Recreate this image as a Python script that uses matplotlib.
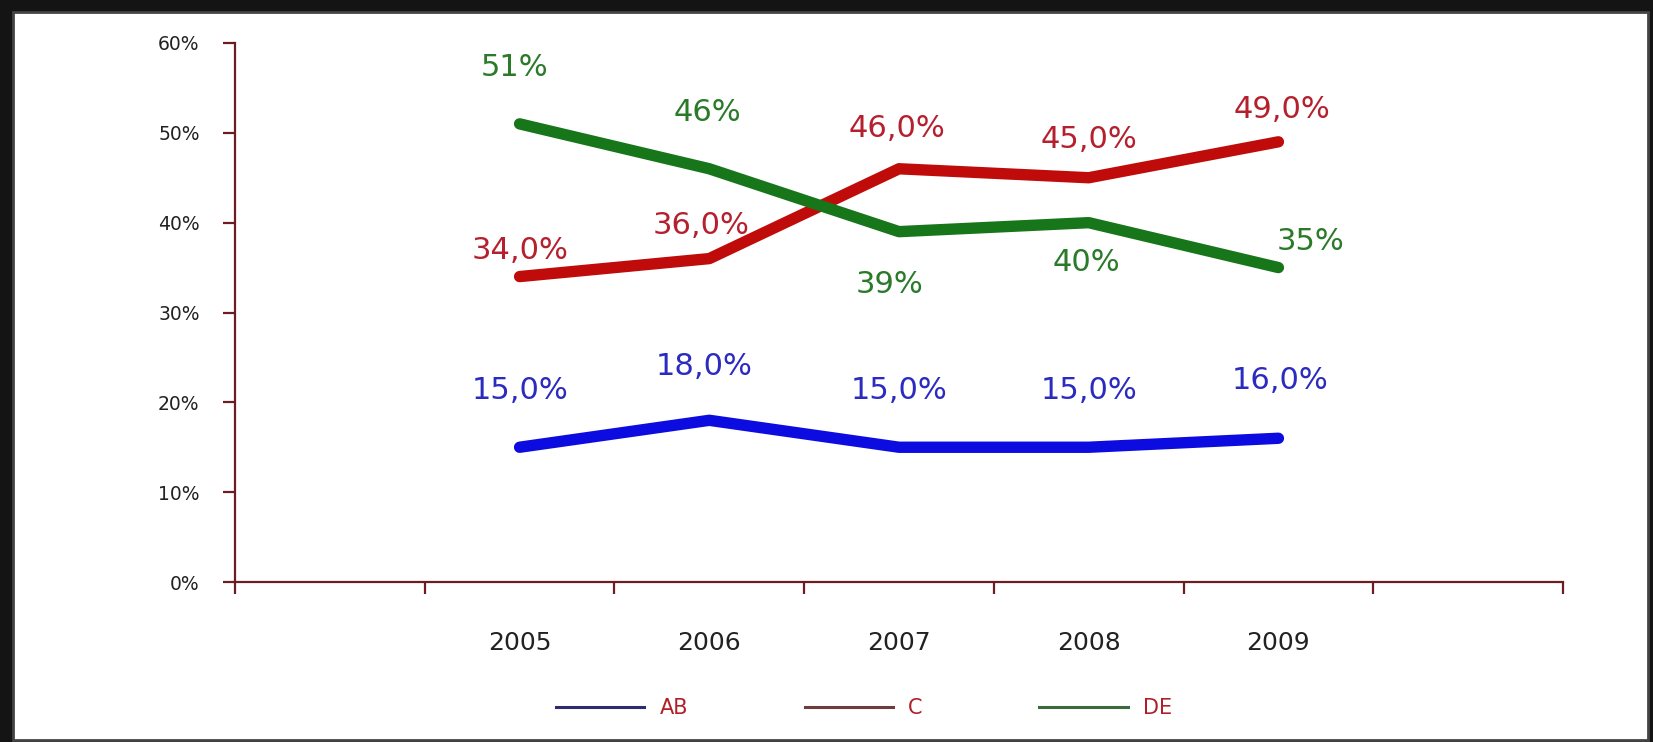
import matplotlib
matplotlib.use("Agg")
import matplotlib.pyplot as plt
from matplotlib.patches import Rectangle
from matplotlib.lines import Line2D
from matplotlib.ticker import FixedLocator, NullFormatter

years = ["2005", "2006", "2007", "2008", "2009"]
ab = [15, 18, 15, 15, 16]
c = [34, 36, 46, 45, 49]
de = [51, 46, 39, 40, 35]
ab_labels = ["15,0%", "18,0%", "15,0%", "15,0%", "16,0%"]
c_labels = ["34,0%", "36,0%", "46,0%", "45,0%", "49,0%"]
de_labels = ["51%", "46%", "39%", "40%", "35%"]
yticks = [0, 10, 20, 30, 40, 50, 60]

col_ab, col_c, col_de = "#0c0ce0", "#c00b0b", "#17761a"
txt_ab, txt_c, txt_de = "#2b2bc0", "#b5202e", "#2a7a2a"
axis_col = "#6e1c24"

fig = plt.figure(figsize=(16.53, 7.42), dpi=100, facecolor="#141414")
fig.patches.append(Rectangle((13/1653, 2/742), (1648-13)/1653, (742-14)/742,
                             transform=fig.transFigure, facecolor="white",
                             edgecolor="#444444", linewidth=2, zorder=-10))

ax = fig.add_axes([235/1653, 1-582/742, (1563-235)/1653, (582-43)/742])
ax.set_facecolor("none")

x = list(range(1, len(years) + 1))
lw = 8.2
ax.plot(x, ab, color=col_ab, lw=lw, solid_capstyle="round", solid_joinstyle="round", zorder=3)
ax.plot(x, c, color=col_c, lw=lw, solid_capstyle="round", solid_joinstyle="round", zorder=3)
ax.plot(x, de, color=col_de, lw=lw, solid_capstyle="round", solid_joinstyle="round", zorder=4)

ax.set_xlim(-0.5, len(years) + 1.5)
ax.set_ylim(0, 60)

for s in ["top", "right"]:
    ax.spines[s].set_visible(False)
for s in ["left", "bottom"]:
    ax.spines[s].set_color(axis_col)
    ax.spines[s].set_linewidth(1.6)

ax.set_yticks(yticks)
ax.set_yticklabels([f"{v}%" for v in yticks], fontsize=13.5, family="DejaVu Sans", color="#222222")
ax.tick_params(axis="y", direction="out", length=8.5, width=1.6, color=axis_col, pad=17)

bounds = [i - 0.5 for i in range(0, len(years) + 3)]
ax.xaxis.set_major_locator(FixedLocator(bounds))
ax.xaxis.set_major_formatter(NullFormatter())
ax.xaxis.set_minor_locator(FixedLocator(x))
ax.set_xticklabels(years, minor=True, fontsize=18, family="DejaVu Sans", color="#222222")
ax.tick_params(axis="x", which="major", direction="out", length=8.5, width=1.6, color=axis_col)
ax.tick_params(axis="x", which="minor", length=0, pad=35)

fs = 22
fam = "DejaVu Sans"
ab_off = [(0, 57), (-5, 54), (0, 57), (0, 57), (2, 58)]
for xi, v, t, o in zip(x, ab, ab_labels, ab_off):
    ax.annotate(t, (xi, v), xytext=o, textcoords="offset pixels", ha="center",
                va="center", fontsize=fs, color=txt_ab, family=fam)
c_off = [(0, 26), (-8, 33), (-2, 40), (0, 38), (4, 32)]
for xi, v, t, o in zip(x, c, c_labels, c_off):
    ax.annotate(t, (xi, v), xytext=o, textcoords="offset pixels", ha="center",
                va="center", fontsize=fs, color=txt_c, family=fam)
de_off = [(-5, 56), (-2, 56), (-10, -53), (-2, -40), (32, 26)]
for xi, v, t, o in zip(x, de, de_labels, de_off):
    ax.annotate(t, (xi, v), xytext=o, textcoords="offset pixels", ha="center",
                va="center", fontsize=fs, color=txt_de, family=fam)

handles = [Line2D([], [], color="#2c2c6e", lw=2.2),
           Line2D([], [], color="#6e3c3c", lw=2.2),
           Line2D([], [], color="#3c6a3c", lw=2.2)]
leg = fig.legend(handles, ["AB", "C", "DE"], loc="center", bbox_to_anchor=(864/1653, 1-708/742),
                 ncol=3, frameon=False, handlelength=4.23, handletextpad=0.75,
                 columnspacing=5.6, prop={"family": "DejaVu Sans", "size": 15})
for t in leg.get_texts():
    t.set_color("#b01e28")

fig.savefig("out.png", dpi=100, facecolor=fig.get_facecolor())
